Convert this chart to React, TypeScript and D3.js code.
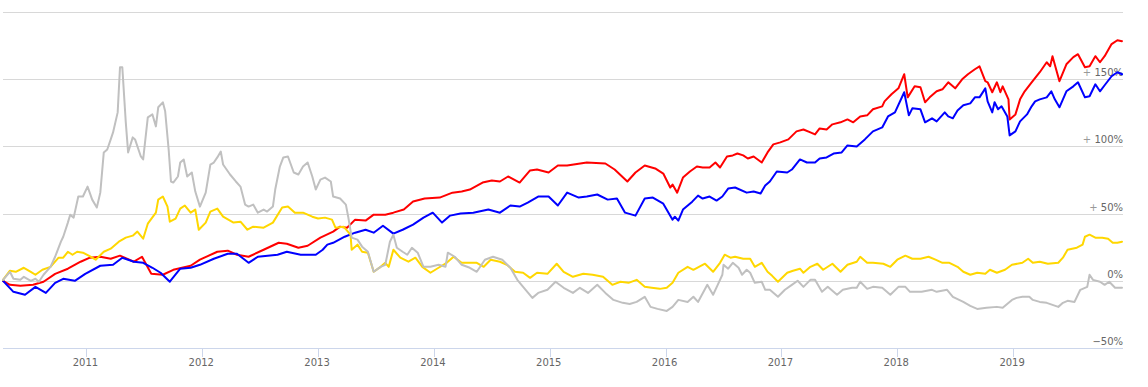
import React from "react";
import * as d3 from "d3";

type Pt = [number, number];

// [decimal year, % change]
const redSeries: Pt[] = [[2010.28,0],[2010.34,-3.0],[2010.43,-3.7],[2010.54,-3.0],[2010.63,-0.7],[2010.73,5.2],[2010.84,9.0],[2010.95,14.2],[2011.03,17.2],[2011.12,17.9],[2011.21,16.4],[2011.29,18.7],[2011.41,14.2],[2011.48,17.9],[2011.56,5.2],[2011.66,4.5],[2011.75,8.2],[2011.90,11.2],[2011.98,15.7],[2012.13,21.6],[2012.22,22.4],[2012.30,19.4],[2012.40,17.9],[2012.53,23.1],[2012.66,28.3],[2012.73,27.6],[2012.83,24.6],[2012.91,26.1],[2013.02,32.1],[2013.13,36.6],[2013.19,40.3],[2013.25,39.5],[2013.32,45.5],[2013.41,44.8],[2013.48,49.2],[2013.58,49.2],[2013.65,50.7],[2013.74,53.0],[2013.82,59.0],[2013.92,61.2],[2014.05,61.9],[2014.16,65.6],[2014.24,66.4],[2014.31,67.9],[2014.42,73.1],[2014.50,74.6],[2014.57,73.9],[2014.64,77.6],[2014.74,73.1],[2014.83,82.1],[2014.89,82.8],[2014.99,80.6],[2015.07,85.8],[2015.15,85.8],[2015.32,88.0],[2015.48,87.3],[2015.56,82.8],[2015.67,73.9],[2015.74,80.6],[2015.82,85.8],[2015.91,83.6],[2015.98,79.8],[2016.04,69.4],[2016.06,71.6],[2016.10,65.6],[2016.15,76.8],[2016.21,81.3],[2016.27,85.0],[2016.32,84.3],[2016.38,84.3],[2016.43,88.0],[2016.47,84.3],[2016.53,92.5],[2016.58,93.3],[2016.62,94.7],[2016.67,93.3],[2016.71,91.0],[2016.76,92.5],[2016.83,88.0],[2016.88,95.5],[2016.93,101.5],[2016.99,103.0],[2017.06,105.2],[2017.13,111.2],[2017.19,112.6],[2017.25,110.4],[2017.29,108.9],[2017.33,113.4],[2017.39,112.6],[2017.44,116.4],[2017.51,117.9],[2017.57,120.1],[2017.62,117.9],[2017.68,122.3],[2017.74,123.1],[2017.79,127.6],[2017.87,129.8],[2017.89,133.5],[2017.95,138.8],[2018.01,143.2],[2018.06,153.7],[2018.09,136.5],[2018.15,144.7],[2018.20,144.0],[2018.24,132.8],[2018.28,136.5],[2018.34,141.0],[2018.39,142.5],[2018.44,147.7],[2018.50,143.2],[2018.56,149.9],[2018.61,153.7],[2018.67,157.4],[2018.71,159.6],[2018.76,148.5],[2018.78,147.7],[2018.82,140.3],[2018.86,147.7],[2018.89,140.3],[2018.91,144.7],[2018.96,135.0],[2018.97,120.1],[2019.02,123.8],[2019.06,135.0],[2019.10,141.0],[2019.16,147.7],[2019.23,155.2],[2019.29,162.6],[2019.32,159.6],[2019.34,167.1],[2019.40,148.5],[2019.46,161.1],[2019.52,166.4],[2019.56,168.6],[2019.62,158.9],[2019.66,159.6],[2019.71,167.1],[2019.75,162.6],[2019.79,167.1],[2019.85,176.1],[2019.90,179.0],[2019.94,178.3]];

const blueSeries: Pt[] = [[2010.28,0],[2010.37,-8.2],[2010.47,-10.4],[2010.56,-4.5],[2010.65,-9.0],[2010.73,-1.5],[2010.80,1.5],[2010.90,0],[2010.99,5.2],[2011.12,11.2],[2011.23,11.9],[2011.31,17.2],[2011.41,14.2],[2011.49,13.4],[2011.57,9.7],[2011.64,6.0],[2011.72,-0.7],[2011.81,9.0],[2011.90,9.7],[2011.98,11.9],[2012.10,16.4],[2012.22,20.1],[2012.30,20.1],[2012.40,13.4],[2012.48,17.9],[2012.65,19.4],[2012.73,21.6],[2012.85,19.4],[2012.98,19.4],[2013.04,23.1],[2013.08,26.9],[2013.13,28.3],[2013.23,32.8],[2013.32,35.8],[2013.41,38.0],[2013.48,35.8],[2013.56,41.0],[2013.65,35.1],[2013.73,38.0],[2013.82,41.8],[2013.91,47.0],[2013.99,50.7],[2014.07,43.3],[2014.14,48.5],[2014.23,50.0],[2014.34,50.7],[2014.47,53.0],[2014.57,50.7],[2014.66,56.0],[2014.74,55.2],[2014.81,58.2],[2014.90,62.7],[2014.99,62.7],[2015.07,56.0],[2015.15,65.6],[2015.25,61.9],[2015.32,62.7],[2015.41,64.2],[2015.50,60.4],[2015.58,61.2],[2015.65,50.7],[2015.74,48.5],[2015.82,61.2],[2015.89,61.9],[2015.98,57.4],[2016.06,45.5],[2016.08,47.7],[2016.11,44.8],[2016.15,53.0],[2016.23,58.9],[2016.28,63.4],[2016.32,61.2],[2016.38,62.7],[2016.44,59.7],[2016.49,62.7],[2016.54,68.6],[2016.60,69.4],[2016.70,65.6],[2016.76,66.4],[2016.82,64.9],[2016.86,70.9],[2016.90,73.9],[2016.96,81.3],[2017.05,80.6],[2017.09,82.8],[2017.16,90.3],[2017.22,88.0],[2017.29,88.0],[2017.33,91.0],[2017.39,91.8],[2017.45,94.7],[2017.52,95.5],[2017.57,100.7],[2017.65,100.0],[2017.72,105.2],[2017.79,111.2],[2017.87,114.1],[2017.92,122.3],[2017.98,125.3],[2018.06,140.3],[2018.10,123.1],[2018.13,128.3],[2018.20,127.6],[2018.24,117.9],[2018.30,120.9],[2018.34,118.6],[2018.41,125.3],[2018.44,122.3],[2018.48,120.9],[2018.52,126.8],[2018.57,130.6],[2018.63,132.0],[2018.67,136.5],[2018.71,136.5],[2018.76,143.2],[2018.78,133.5],[2018.82,125.3],[2018.84,132.8],[2018.87,127.6],[2018.90,129.8],[2018.95,122.3],[2018.97,108.2],[2019.02,111.2],[2019.06,118.6],[2019.12,123.8],[2019.16,129.8],[2019.19,133.5],[2019.23,135.0],[2019.29,136.5],[2019.33,141.0],[2019.36,135.0],[2019.40,129.1],[2019.46,141.0],[2019.52,144.7],[2019.56,147.7],[2019.62,136.5],[2019.66,137.3],[2019.71,146.2],[2019.75,141.0],[2019.79,145.5],[2019.85,152.2],[2019.90,155.2],[2019.94,153.7]];

const goldSeries: Pt[] = [[2010.28,0.7],[2010.34,7.5],[2010.39,6.7],[2010.46,9.7],[2010.52,6.7],[2010.56,4.5],[2010.62,8.2],[2010.69,10.4],[2010.76,17.2],[2010.80,17.2],[2010.84,21.6],[2010.88,19.4],[2010.92,21.6],[2010.97,20.9],[2011.02,18.7],[2011.08,15.7],[2011.15,21.6],[2011.21,23.9],[2011.28,29.1],[2011.34,32.1],[2011.40,33.6],[2011.44,36.6],[2011.49,31.3],[2011.53,42.5],[2011.60,50.7],[2011.62,60.4],[2011.66,62.7],[2011.70,55.2],[2011.72,44.0],[2011.77,46.3],[2011.81,53.7],[2011.85,56.0],[2011.90,50.7],[2011.94,53.0],[2011.97,38.0],[2012.03,43.3],[2012.07,51.5],[2012.13,53.7],[2012.18,47.7],[2012.27,43.3],[2012.33,44.0],[2012.39,38.0],[2012.44,40.3],[2012.53,39.5],[2012.61,43.3],[2012.69,54.5],[2012.74,55.2],[2012.80,50.7],[2012.87,50.7],[2012.95,47.7],[2013.00,46.3],[2013.06,47.0],[2013.12,45.5],[2013.15,39.5],[2013.22,40.3],[2013.28,34.3],[2013.29,23.1],[2013.34,26.9],[2013.38,21.6],[2013.43,20.9],[2013.48,6.7],[2013.54,10.4],[2013.58,13.4],[2013.61,10.4],[2013.65,23.1],[2013.71,17.2],[2013.78,14.2],[2013.84,17.2],[2013.90,10.4],[2013.97,6.0],[2014.04,9.7],[2014.11,13.4],[2014.17,17.9],[2014.24,13.4],[2014.31,13.4],[2014.37,13.4],[2014.43,10.4],[2014.49,15.7],[2014.57,14.2],[2014.63,11.9],[2014.70,6.7],[2014.77,6.0],[2014.83,2.2],[2014.89,6.0],[2014.98,5.2],[2015.06,12.7],[2015.12,6.7],[2015.20,3.0],[2015.29,5.2],[2015.37,4.5],[2015.46,3.0],[2015.54,-3.0],[2015.61,-0.7],[2015.68,-1.5],[2015.75,0.7],[2015.82,-4.5],[2015.88,-5.2],[2015.95,-6.0],[2016.01,-5.2],[2016.06,-1.5],[2016.11,6.0],[2016.19,10.4],[2016.24,8.2],[2016.34,12.7],[2016.41,6.7],[2016.47,13.4],[2016.51,19.4],[2016.56,17.2],[2016.60,17.9],[2016.67,16.4],[2016.73,16.4],[2016.77,10.4],[2016.83,13.4],[2016.88,6.7],[2016.92,3.7],[2016.97,-0.7],[2017.05,6.0],[2017.10,7.5],[2017.16,9.0],[2017.19,6.0],[2017.25,10.4],[2017.31,12.7],[2017.36,8.2],[2017.44,12.7],[2017.51,6.7],[2017.57,11.9],[2017.65,14.2],[2017.68,17.9],[2017.74,13.4],[2017.79,13.4],[2017.88,12.7],[2017.94,10.4],[2018.00,15.7],[2018.07,18.7],[2018.13,16.4],[2018.20,16.4],[2018.27,17.9],[2018.33,15.7],[2018.39,13.4],[2018.45,13.4],[2018.52,10.4],[2018.57,6.7],[2018.63,4.5],[2018.69,6.0],[2018.76,5.2],[2018.80,8.2],[2018.86,6.0],[2018.93,8.2],[2018.99,11.9],[2019.08,13.4],[2019.13,16.4],[2019.17,13.4],[2019.23,14.2],[2019.30,12.7],[2019.39,13.4],[2019.43,17.2],[2019.47,23.1],[2019.55,24.6],[2019.60,26.9],[2019.62,32.8],[2019.66,34.3],[2019.71,32.1],[2019.77,32.1],[2019.82,31.3],[2019.86,28.3],[2019.90,28.3],[2019.94,29.1]];

const silverSeries: Pt[] = [[2010.28,0.7],[2010.34,6.7],[2010.37,1.5],[2010.43,0.7],[2010.46,3.0],[2010.52,0],[2010.56,1.5],[2010.59,-0.7],[2010.63,4.5],[2010.69,10.4],[2010.73,17.9],[2010.78,29.1],[2010.80,32.8],[2010.84,43.3],[2010.86,49.2],[2010.89,47.0],[2010.93,62.7],[2010.97,62.7],[2011.01,70.1],[2011.05,60.4],[2011.09,54.5],[2011.12,65.6],[2011.15,95.5],[2011.18,97.7],[2011.21,105.2],[2011.23,110.4],[2011.27,125.3],[2011.29,158.9],[2011.31,158.9],[2011.34,117.9],[2011.36,95.5],[2011.40,106.7],[2011.42,105.2],[2011.47,92.5],[2011.49,90.3],[2011.53,121.6],[2011.57,123.8],[2011.60,114.9],[2011.62,129.1],[2011.66,132.8],[2011.68,126.1],[2011.71,97.7],[2011.73,73.9],[2011.75,73.1],[2011.79,77.6],[2011.81,88.0],[2011.84,90.3],[2011.87,77.6],[2011.91,80.6],[2011.94,66.4],[2011.98,55.2],[2012.03,65.6],[2012.07,86.5],[2012.10,88.0],[2012.13,91.8],[2012.16,96.2],[2012.18,86.5],[2012.24,79.1],[2012.29,73.9],[2012.33,70.1],[2012.37,56.7],[2012.40,55.2],[2012.44,56.7],[2012.48,50.7],[2012.53,53.0],[2012.56,51.5],[2012.61,55.2],[2012.63,67.9],[2012.67,85.0],[2012.70,91.8],[2012.74,92.5],[2012.79,80.6],[2012.83,79.1],[2012.87,85.0],[2012.91,88.0],[2012.95,77.6],[2012.98,67.9],[2013.02,75.3],[2013.06,76.8],[2013.11,73.9],[2013.13,62.7],[2013.19,61.2],[2013.24,56.7],[2013.26,47.7],[2013.29,32.1],[2013.34,30.6],[2013.38,25.4],[2013.43,21.6],[2013.48,6.7],[2013.54,10.4],[2013.58,11.9],[2013.62,29.1],[2013.65,34.3],[2013.68,24.6],[2013.73,21.6],[2013.77,19.4],[2013.81,24.6],[2013.86,20.9],[2013.91,10.4],[2013.97,10.4],[2014.04,11.9],[2014.10,10.4],[2014.12,20.9],[2014.18,17.9],[2014.24,11.9],[2014.31,9.7],[2014.37,6.7],[2014.44,15.7],[2014.51,17.9],[2014.59,15.7],[2014.66,9.7],[2014.72,0.7],[2014.77,-4.5],[2014.85,-12.7],[2014.90,-9.0],[2014.98,-6.7],[2015.05,-0.7],[2015.12,-5.2],[2015.20,-9.0],[2015.26,-5.2],[2015.33,-9.0],[2015.41,-3.0],[2015.48,-9.0],[2015.55,-14.2],[2015.63,-16.4],[2015.69,-17.2],[2015.75,-15.7],[2015.82,-11.9],[2015.87,-19.4],[2015.93,-20.9],[2016.01,-22.4],[2016.06,-19.4],[2016.11,-14.2],[2016.19,-15.7],[2016.24,-11.9],[2016.28,-15.7],[2016.36,-3.0],[2016.41,-10.4],[2016.45,-3.0],[2016.49,4.5],[2016.50,11.9],[2016.54,9.0],[2016.58,13.4],[2016.63,9.7],[2016.66,4.5],[2016.70,8.2],[2016.73,6.0],[2016.77,-1.5],[2016.83,-0.7],[2016.86,-6.7],[2016.90,-6.7],[2016.97,-11.9],[2017.03,-6.7],[2017.09,-3.0],[2017.14,0],[2017.19,-4.5],[2017.25,0.7],[2017.29,0.7],[2017.35,-8.2],[2017.40,-4.5],[2017.48,-10.4],[2017.53,-6.7],[2017.61,-5.2],[2017.65,-5.2],[2017.68,-0.7],[2017.74,-6.0],[2017.79,-4.5],[2017.87,-5.2],[2017.94,-10.4],[2018.01,-4.5],[2018.07,-4.5],[2018.11,-8.2],[2018.21,-8.2],[2018.30,-6.7],[2018.34,-8.2],[2018.43,-6.7],[2018.48,-11.9],[2018.57,-15.7],[2018.63,-18.7],[2018.69,-20.9],[2018.77,-20.1],[2018.86,-19.4],[2018.91,-20.1],[2018.99,-14.2],[2019.03,-12.7],[2019.08,-11.9],[2019.14,-11.9],[2019.17,-14.2],[2019.23,-15.7],[2019.29,-16.4],[2019.39,-19.4],[2019.43,-16.4],[2019.47,-14.9],[2019.53,-15.7],[2019.58,-6.7],[2019.64,-4.5],[2019.66,4.5],[2019.69,0.7],[2019.75,-0.7],[2019.79,-3.0],[2019.83,-0.7],[2019.88,-5.2],[2019.94,-5.2]];

const seriesOrder = ["red", "blue", "gold", "silver"];
const seriesColors = ["#ff0000", "#0000ff", "#ffd700", "#c0c0c0"];
const seriesData = [redSeries, blueSeries, goldSeries, silverSeries];

const yearTicks = [2011, 2012, 2013, 2014, 2015, 2016, 2017, 2018, 2019];
const gridValues = [0, 50, 100, 150, 200];
const yLabelValues = [-50, 0, 50, 100, 150];
const yLabelSigns = ["", "", "+ ", "+ ", "+ "];
const yLabelTexts = ["\u221250%", "0%", "50%", "100%", "150%"];

const W = 1148;
const H = 387;

export default function App() {
  const x = d3.scaleLinear().domain([2010.28, 2019.94]).range([3, 1122]);
  const y = d3.scaleLinear().domain([-50, 200]).range([348, 12]);
  const line = d3
    .line<Pt>()
    .x((d) => x(d[0]))
    .y((d) => y(d[1]));
  const left = 3;
  const right = 1123;
  const font = "'DejaVu Sans', Verdana, sans-serif";

  return (
    <svg
      width={W}
      height={H}
      style={{ position: "absolute", left: 0, top: 0, background: "#fff" }}
    >
      <g>
        {gridValues.map((v) => (
          <line
            key={"g" + v}
            x1={left}
            x2={right}
            y1={Math.round(y(v)) + 0.5}
            y2={Math.round(y(v)) + 0.5}
            stroke="#d8d8d8"
            strokeWidth={1}
          />
        ))}
        <line
          x1={left}
          x2={right}
          y1={Math.round(y(-50)) + 0.5}
          y2={Math.round(y(-50)) + 0.5}
          stroke="#ccd6eb"
          strokeWidth={1}
        />
        {yearTicks.map((t) => (
          <g key={"t" + t}>
            <line
              x1={Math.round(x(t)) + 0.5}
              x2={Math.round(x(t)) + 0.5}
              y1={y(-50)}
              y2={y(-50) + 9}
              stroke="#ccd6eb"
              strokeWidth={1}
            />
            <text
              x={x(t) - 1}
              y={366}
              textAnchor="middle"
              fontFamily={font}
              fontSize={10}
              fill="#666666"
            >
              {String(t)}
            </text>
          </g>
        ))}
        {yLabelValues.map((v, i) => (
          <text
            key={"yl" + v}
            x={right}
            y={y(v) - 3}
            textAnchor="end"
            fontFamily={font}
            fontSize={10}
            fill="#666666"
          >
            {yLabelSigns[i] ? <tspan fill="#999999">{yLabelSigns[i]}</tspan> : null}
            <tspan>{yLabelTexts[i]}</tspan>
          </text>
        ))}
      </g>
      <g fill="none" strokeWidth={2} strokeLinejoin="round" strokeLinecap="round">
        {seriesData.map((s, i) => (
          <path key={seriesOrder[i]} d={line(s) || ""} stroke={seriesColors[i]} />
        ))}
      </g>
    </svg>
  );
}
